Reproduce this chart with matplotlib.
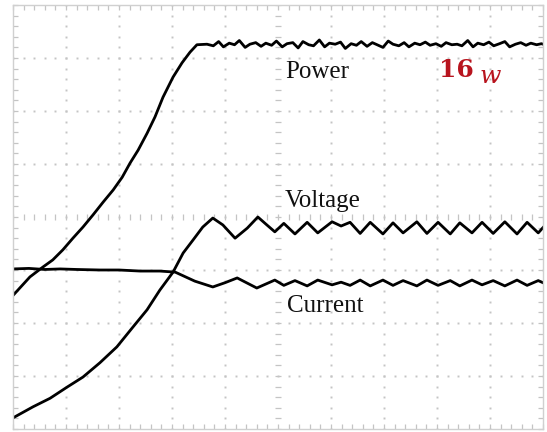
import numpy as np
import matplotlib
matplotlib.use('Agg')
import matplotlib.pyplot as plt

# trace data in screen divisions (10 x 8 grid)
power_x = [0.0, 0.32, 0.57, 0.75, 0.94, 1.13, 1.32, 1.51, 1.70, 1.89, 2.06, 2.21, 2.36, 2.53,
           2.68, 2.83, 3.02, 3.19, 3.34, 3.47, 3.66,
           3.78, 3.88, 3.97, 4.08, 4.18, 4.27, 4.38, 4.47, 4.58, 4.68, 4.77, 4.88, 4.97,
           5.08, 5.17, 5.28, 5.38, 5.47, 5.58, 5.67, 5.78, 5.88, 5.97, 6.08, 6.18, 6.27,
           6.38, 6.48, 6.57, 6.68, 6.78, 6.87, 6.98, 7.08, 7.17, 7.28, 7.38, 7.47, 7.58,
           7.68, 7.78, 7.87, 7.98, 8.08, 8.17, 8.28, 8.38, 8.47, 8.58, 8.68, 8.77, 8.88,
           8.98, 9.07, 9.18, 9.28, 9.37, 9.48, 9.58, 9.68, 9.77, 9.88, 9.97, 10.0]
power_y = [2.52, 2.87, 3.06, 3.19, 3.38, 3.60, 3.81, 4.04, 4.28, 4.51, 4.75, 5.02, 5.26, 5.58,
           5.89, 6.26, 6.64, 6.91, 7.11, 7.25, 7.26,
           7.23, 7.31, 7.21, 7.28, 7.25, 7.33, 7.20, 7.26, 7.29, 7.22, 7.28, 7.24, 7.32,
           7.21, 7.27, 7.29, 7.19, 7.31, 7.25, 7.23, 7.34, 7.21, 7.28, 7.26, 7.30, 7.18,
           7.27, 7.24, 7.31, 7.22, 7.29, 7.25, 7.20, 7.32, 7.26, 7.23, 7.29, 7.21, 7.28,
           7.25, 7.30, 7.24, 7.27, 7.22, 7.29, 7.25, 7.26, 7.23, 7.33, 7.21, 7.28, 7.25,
           7.30, 7.23, 7.27, 7.31, 7.21, 7.26, 7.29, 7.24, 7.28, 7.25, 7.27, 7.26]

voltage_x = [0.0, 0.38, 0.70, 1.02, 1.32, 1.64, 1.96, 2.26, 2.53, 2.77, 3.02, 3.21, 3.40,
             3.58, 3.77, 3.96, 4.19, 4.42, 4.62, 4.79, 4.94, 5.11, 5.32, 5.55, 5.75, 6.02,
             6.19, 6.36, 6.55, 6.74, 6.98, 7.17, 7.36, 7.62, 7.81, 8.02, 8.25, 8.43, 8.66,
             8.85, 9.06, 9.28, 9.51, 9.70, 9.91, 10.0]
voltage_y = [0.21, 0.42, 0.58, 0.79, 0.98, 1.25, 1.55, 1.92, 2.25, 2.62, 2.96, 3.32, 3.57,
             3.81, 3.98, 3.85, 3.60, 3.79, 4.00, 3.85, 3.72, 3.88, 3.68, 3.90, 3.70, 3.91,
             3.83, 3.90, 3.69, 3.90, 3.68, 3.89, 3.70, 3.91, 3.69, 3.90, 3.68, 3.89, 3.70,
             3.90, 3.69, 3.91, 3.68, 3.90, 3.70, 3.80]

current_x = [0.0, 0.30, 0.60, 0.89, 1.20, 1.64, 2.00, 2.40, 2.77, 3.06, 3.43, 3.77, 4.00,
             4.23, 4.60, 4.94, 5.11, 5.32, 5.55, 5.75, 6.02, 6.19, 6.36, 6.55, 6.74, 6.98,
             7.17, 7.36, 7.62, 7.81, 8.02, 8.25, 8.43, 8.66, 8.85, 9.06, 9.28, 9.51, 9.70,
             9.91, 10.0]
current_y = [3.02, 3.03, 3.01, 3.02, 3.01, 3.00, 3.00, 2.98, 2.98, 2.96, 2.79, 2.68, 2.76,
             2.85, 2.66, 2.81, 2.71, 2.80, 2.70, 2.81, 2.72, 2.77, 2.71, 2.81, 2.70, 2.81,
             2.71, 2.80, 2.70, 2.81, 2.71, 2.80, 2.70, 2.81, 2.72, 2.80, 2.70, 2.81, 2.71,
             2.80, 2.76]

labels = ['Power', 'Voltage', 'Current']
label_pos = [(5.13, 6.63), (5.13, 4.19), (5.17, 2.21)]

grid_c = '#c4c4c4'


def main():
    plt.rcParams['font.family'] = ['Liberation Serif', 'DejaVu Serif']
    fig = plt.figure(figsize=(5.47, 4.32), dpi=100)
    ax = fig.add_axes([13 / 547, 3 / 432, 530 / 547, 424 / 432])
    ax.set_xlim(0, 10)
    ax.set_ylim(0, 8)

    for s in ax.spines.values():
        s.set_color('#d0d0d0')
        s.set_linewidth(1.0)
    ax.set_xticks(np.arange(0, 10.01, 0.2))
    ax.set_yticks(np.arange(0, 8.01, 0.2))
    ax.tick_params(direction='in', length=3.5, width=0.9, color=grid_c,
                   top=True, right=True, labelbottom=False, labelleft=False)

    # dotted graticule
    dots = np.arange(0, 10.01, 0.2)
    for yv in [1, 2, 3, 5, 6, 7]:
        ax.plot(dots, [yv] * len(dots), ls='none', marker='s', ms=1.4, mew=0, color=grid_c)
    dots = np.arange(0, 8.01, 0.2)
    for xv in [1, 2, 3, 4, 6, 7, 8, 9]:
        ax.plot([xv] * len(dots), dots, ls='none', marker='s', ms=1.4, mew=0, color=grid_c)
    # center axes with tick marks
    cx = np.arange(0, 10.01, 0.2)
    ax.plot(cx, [4] * len(cx), ls='none', marker='|', ms=4, mew=0.9, color=grid_c)
    cy = np.arange(0, 8.01, 0.2)
    ax.plot([5] * len(cy), cy, ls='none', marker='_', ms=4, mew=0.9, color=grid_c)

    ax.plot(power_x, power_y, color='black', lw=2.0)
    ax.plot(voltage_x, voltage_y, color='black', lw=2.0)
    ax.plot(current_x, current_y, color='black', lw=2.0)

    for txt, (x, y) in zip(labels, label_pos):
        ax.text(x, y, txt, fontsize=18, va='baseline', ha='left', color='#111111')

    ax.text(8.04, 6.65, '16', fontsize=18, fontweight='bold', family='DejaVu Serif',
            color='#b8141e', va='baseline', ha='left')
    ax.text(8.8, 6.53, 'w', fontsize=18, fontstyle='italic', family='DejaVu Serif',
            color='#b8141e', va='baseline', ha='left')

    fig.savefig('out.png', dpi=100)


if __name__ == '__main__':
    main()
